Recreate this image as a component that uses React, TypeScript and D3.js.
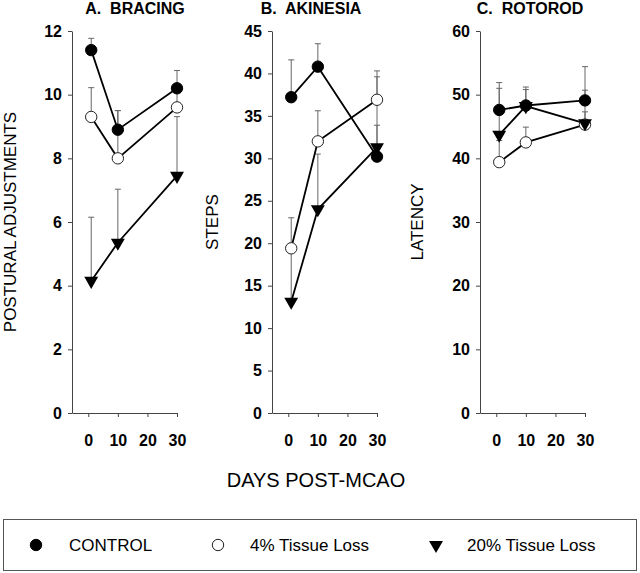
import React, { useEffect, useRef } from 'react';
import * as d3 from 'd3';

// days post-MCAO at which each group was tested
const days = [1, 10, 30];
const xTicks = [0, 10, 20, 30];

const panelTitles = ['A.\u00a0 BRACING', 'B.\u00a0 AKINESIA', 'C.\u00a0 ROTOROD'];
const yTitles = ['POSTURAL ADJUSTMENTS', 'STEPS', 'LATENCY'];
const yMax = [12, 45, 60];
const yStep = [2, 5, 10];

// group means per panel
const controlMean = [
  [11.4, 8.9, 10.2],
  [37.2, 40.8, 30.2],
  [47.6, 48.3, 49.1],
];
const loss4Mean = [
  [9.3, 8.0, 9.6],
  [19.4, 32.0, 36.9],
  [39.4, 42.5, 45.3],
];
const loss20Mean = [
  [4.15, 5.35, 7.45],
  [13.1, 24.0, 31.3],
  [43.7, 48.2, 45.5],
];

// upper error bars (SEM)
const controlSem = [
  [0.37, 0.6, 0.56],
  [4.4, 2.7, 9.4],
  [4.3, 2.9, 5.3],
];
const loss4Sem = [
  [0.92, 1.5, 0.5],
  [3.6, 3.6, 3.4],
  [3.4, 2.4, 2.0],
];
const loss20Sem = [
  [2.0, 1.68, 1.86],
  [6.0, 6.5, 2.6],
  [7.3, 2.6, 5.2],
];

const legendLabels = ['CONTROL', '4% Tissue Loss', '20% Tissue Loss'];

const FONT = '"Liberation Sans", Arial, Helvetica, sans-serif';
const AXIS_X = [72, 272, 480];
const TITLE_X = [135, 311, 530];
const YTITLE_X = [10, 212, 417];
const PLOT_W = 105;
const TOP = 31;
const BOTTOM = 413;

type Kind = 'filled' | 'open' | 'triangle';

function drawMarker(
  g: d3.Selection<SVGGElement, unknown, null, undefined>,
  kind: Kind,
  cx: number,
  cy: number,
): void {
  if (kind === 'triangle') {
    g.append('path')
      .attr('d', d3.symbol().type(d3.symbolTriangle).size(84)() as string)
      .attr('transform', `translate(${cx},${cy}) rotate(180)`)
      .attr('fill', '#000');
  } else {
    g.append('circle')
      .attr('cx', cx)
      .attr('cy', cy)
      .attr('r', 5.7)
      .attr('fill', kind === 'filled' ? '#000' : '#fff')
      .attr('stroke', kind === 'filled' ? '#000' : '#222')
      .attr('stroke-width', 1);
  }
}

export default function App(): JSX.Element {
  const svgRef = useRef<SVGSVGElement>(null);

  useEffect(() => {
    const svg = d3.select(svgRef.current);
    svg.selectAll('*').remove();

    const groups: { kind: Kind; mean: number[][]; sem: number[][] }[] = [
      { kind: 'open', mean: loss4Mean, sem: loss4Sem },
      { kind: 'triangle', mean: loss20Mean, sem: loss20Sem },
      { kind: 'filled', mean: controlMean, sem: controlSem },
    ];

    panelTitles.forEach((title, p) => {
      const x = d3
        .scaleLinear()
        .domain([-5.5, 30])
        .range([AXIS_X[p], AXIS_X[p] + PLOT_W]);
      const y = d3.scaleLinear().domain([0, yMax[p]]).range([BOTTOM, TOP]);

      const panel = svg.append('g');

      // y axis
      const yAxisG = panel
        .append('g')
        .attr('transform', `translate(${AXIS_X[p]},0)`)
        .call(
          d3
            .axisLeft(y)
            .tickValues(d3.range(0, yMax[p] + 0.001, yStep[p]))
            .tickSize(4)
            .tickSizeOuter(0)
            .tickPadding(6)
            .tickFormat(d3.format('d')),
        );

      // x axis
      const xAxisG = panel
        .append('g')
        .attr('transform', `translate(0,${BOTTOM})`)
        .call(
          d3
            .axisBottom(x)
            .tickValues(xTicks)
            .tickSize(4)
            .tickSizeOuter(0)
            .tickPadding(18)
            .tickFormat(d3.format('d')),
        );

      [yAxisG, xAxisG].forEach((ag) => {
        ag.selectAll('path, line').attr('stroke', '#444').attr('stroke-width', 1);
        ag.selectAll('text')
          .attr('font-family', FONT)
          .attr('font-size', 16)
          .attr('font-weight', 'bold')
          .attr('fill', '#000');
      });

      // panel title
      panel
        .append('text')
        .attr('x', TITLE_X[p])
        .attr('y', 14)
        .attr('text-anchor', 'middle')
        .attr('font-family', FONT)
        .attr('font-size', 16)
        .attr('font-weight', 'bold')
        .text(title);

      // y title
      panel
        .append('text')
        .attr('transform', `translate(${YTITLE_X[p]},222) rotate(-90)`)
        .attr('text-anchor', 'middle')
        .attr('dominant-baseline', 'central')
        .attr('font-family', FONT)
        .attr('font-size', 17)
        .text(yTitles[p]);

      // error bars
      groups.forEach((grp) => {
        days.forEach((d, i) => {
          const m = grp.mean[p][i];
          const top = m + grp.sem[p][i];
          panel
            .append('line')
            .attr('x1', x(d))
            .attr('x2', x(d))
            .attr('y1', y(m))
            .attr('y2', y(top))
            .attr('stroke', '#666')
            .attr('stroke-width', 1);
          panel
            .append('line')
            .attr('x1', x(d) - 3)
            .attr('x2', x(d) + 3)
            .attr('y1', y(top))
            .attr('y2', y(top))
            .attr('stroke', '#666')
            .attr('stroke-width', 1);
        });
      });

      // lines + markers
      const line = d3
        .line<number>()
        .x((_, i) => x(days[i]))
        .y((v) => y(v));
      groups.forEach((grp) => {
        panel
          .append('path')
          .attr('d', line(grp.mean[p]) as string)
          .attr('fill', 'none')
          .attr('stroke', '#000')
          .attr('stroke-width', 1.8);
      });
      groups.forEach((grp) => {
        days.forEach((d, i) => {
          drawMarker(panel, grp.kind, x(d), y(grp.mean[p][i]));
        });
      });
    });

    // shared x title
    svg
      .append('text')
      .attr('x', 316)
      .attr('y', 480)
      .attr('text-anchor', 'middle')
      .attr('dominant-baseline', 'central')
      .attr('font-family', FONT)
      .attr('font-size', 20)
      .text('DAYS POST-MCAO');

    // legend
    const legend = svg.append('g');
    legend
      .append('rect')
      .attr('x', 3.5)
      .attr('y', 519.5)
      .attr('width', 633)
      .attr('height', 51)
      .attr('fill', 'none')
      .attr('stroke', '#555')
      .attr('stroke-width', 1);
    const legendKinds: Kind[] = ['filled', 'open', 'triangle'];
    const legendMarkX = [36, 218, 436];
    const legendTextX = [69, 250, 467];
    legendLabels.forEach((lab, i) => {
      drawMarker(legend, legendKinds[i], legendMarkX[i], 545);
      legend
        .append('text')
        .attr('x', legendTextX[i])
        .attr('y', 545)
        .attr('dominant-baseline', 'central')
        .attr('font-family', FONT)
        .attr('font-size', 17)
        .text(lab);
    });
  }, []);

  return (
    <div style={{ position: 'absolute', left: 0, top: 0 }}>
      <svg ref={svgRef} width={640} height={573} style={{ display: 'block', background: '#fff' }} />
    </div>
  );
}
